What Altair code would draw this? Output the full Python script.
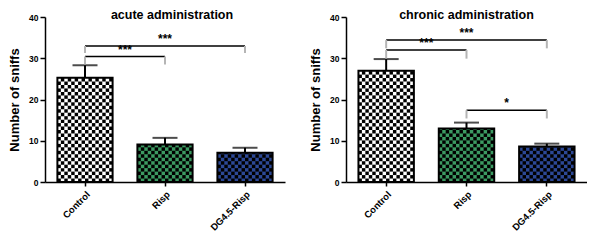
import altair as alt
import pandas as pd

groups = ["Control", "Risp", "DG4.5-Risp"]
fill_colors = ["#ffffff", "#3c9a62", "#2c4896"]

acute_mean = [25.3, 9.1, 7.1]
acute_sem = [3.0, 1.6, 1.2]
chronic_mean = [27.0, 13.0, 8.6]
chronic_sem = [2.8, 1.4, 0.7]

# brackets: from index, to index, line level, tick bottom, label
acute_from = [0, 0]
acute_to = [1, 2]
acute_level = [30.4, 33.0]
acute_drop = [28.5, 31.3]
acute_label = ["***", "***"]

chronic_from = [0, 0, 1]
chronic_to = [1, 2, 2]
chronic_level = [32.0, 34.4, 17.4]
chronic_drop = [29.9, 32.4, 15.4]
chronic_label = ["***", "***", "*"]

y_ticks = [0, 10, 20, 30, 40]
CELL = 0.84
NCOLS = 16
FONT = "Liberation Sans"


def panel(title, means, sems, bfrom, bto, blevel, bdrop, blabel, width, title_dx):
    df = pd.DataFrame({"group": groups, "value": means, "sem": sems})
    bdf = pd.DataFrame({"x1": bfrom, "x2": bto, "y": blevel, "yb": bdrop, "label": blabel})

    yscale = alt.Scale(domain=[0, 40], nice=False)
    yaxis = alt.Axis(values=y_ticks, title="Number of sniffs", grid=False)
    xscale = alt.Scale(domain=groups, paddingInner=0.31, paddingOuter=0.155)
    xaxis = alt.Axis(title=None, labelAngle=-45, labelAlign="right", labelBaseline="top",
                     labelFontSize=9.5, tickSize=4, labelPadding=3)
    xb = alt.X("group:N", scale=xscale, axis=xaxis, sort=groups)

    base = alt.Chart(df).transform_calculate(top="datum.value + datum.sem")

    bars = base.mark_bar().encode(
        x=xb,
        y=alt.Y("value:Q", scale=yscale, axis=yaxis),
        color=alt.Color("group:N", scale=alt.Scale(domain=groups, range=fill_colors), legend=None),
    )
    cells = (
        base.transform_calculate(row="sequence(0, ceil(datum.value / %f))" % CELL)
        .transform_flatten(["row"])
        .transform_calculate(col="sequence(0, %d)" % NCOLS)
        .transform_flatten(["col"])
        .transform_filter("(datum.row + datum.col) % 2 == 0")
        .transform_calculate(y0="datum.row * %f" % CELL,
                             y1="min((datum.row + 1) * %f, datum.value)" % CELL)
        .mark_bar(color="black")
        .encode(
            x=xb,
            xOffset=alt.XOffset("col:O", scale=alt.Scale(paddingInner=0, paddingOuter=0)),
            y=alt.Y("y0:Q", scale=yscale, axis=yaxis),
            y2="y1:Q",
        )
    )
    outline = base.mark_bar(fillOpacity=0, stroke="black", strokeWidth=2).encode(
        x=xb, y=alt.Y("value:Q", scale=yscale, axis=yaxis)
    )
    err = base.mark_rule(color="black", strokeWidth=2).encode(
        x=xb, y=alt.Y("value:Q", scale=yscale, axis=yaxis), y2="top:Q"
    )
    cap = base.mark_tick(color="black", size=25, thickness=2).encode(
        x=xb, y=alt.Y("top:Q", scale=yscale, axis=yaxis)
    )
    band_layer = alt.layer(bars, cells, outline, err, cap)

    qscale = alt.Scale(domain=[-0.5, 2.5], nice=False, zero=False)
    bb = alt.Chart(bdf)
    hline = bb.mark_rule(color="black", strokeWidth=1.5).encode(
        x=alt.X("x1:Q", scale=qscale, axis=None), x2="x2:Q",
        y=alt.Y("y:Q", scale=yscale, axis=yaxis),
    )
    lt = bb.mark_rule(color="#b5b5b5", strokeWidth=2).encode(
        x=alt.X("x1:Q", scale=qscale, axis=None),
        y=alt.Y("y:Q", scale=yscale, axis=yaxis), y2="yb:Q",
    )
    rt = bb.mark_rule(color="#b5b5b5", strokeWidth=2).encode(
        x=alt.X("x2:Q", scale=qscale, axis=None),
        y=alt.Y("y:Q", scale=yscale, axis=yaxis), y2="yb:Q",
    )
    txt = bb.transform_calculate(mid="(datum.x1 + datum.x2) / 2").mark_text(
        baseline="bottom", dy=0, fontSize=12, fontWeight="bold", font=FONT, color="black"
    ).encode(
        x=alt.X("mid:Q", scale=qscale, axis=None),
        y=alt.Y("y:Q", scale=yscale, axis=yaxis),
        text="label:N",
    )
    br_layer = alt.layer(hline, lt, rt, txt)

    return alt.layer(band_layer, br_layer).resolve_scale(x="independent").properties(
        width=width, height=165,
        title=alt.TitleParams(title, fontSize=12.5, font=FONT, fontWeight="bold",
                              anchor="middle", frame="group", offset=-8, dx=title_dx),
    )


left = panel("acute administration", acute_mean, acute_sem, acute_from, acute_to,
             acute_level, acute_drop, acute_label, 240, 7)
right = panel("chronic administration", chronic_mean, chronic_sem, chronic_from, chronic_to,
              chronic_level, chronic_drop, chronic_label, 241, 0)

chart = (
    alt.hconcat(left, right, spacing=24)
    .properties(padding=0)
    .configure_view(stroke=None)
    .configure_axis(
        labelFont=FONT, labelFontWeight="bold", labelFontSize=8.5, labelColor="black",
        titleFont=FONT, titleFontWeight="bold", titleFontSize=13, titleColor="black",
        domainColor="black", domainWidth=1.5, tickColor="black", tickWidth=1.5,
        tickSize=5, labelPadding=2, titlePadding=7,
    )
)

chart.save("out.html", embed_options={"renderer": "svg", "actions": False})
